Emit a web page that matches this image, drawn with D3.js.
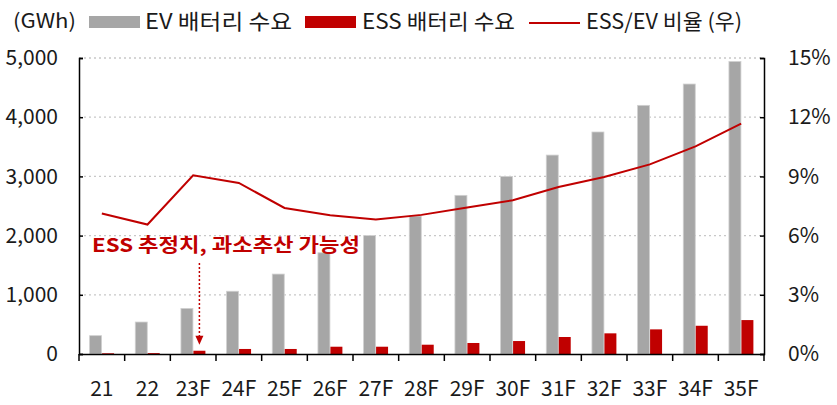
<!DOCTYPE html>
<html>
<head>
<meta charset="utf-8">
<script src="https://cdn.jsdelivr.net/npm/d3@7"></script>
<style>
	body { margin: 0; background: #fff; }
	text { font-family: "Noto Sans CJK KR", "Noto Sans", sans-serif; fill: #1a1a1a; }
</style>
</head>
<body>
<script>
var categories = ["21", "22", "23F", "24F", "25F", "26F", "27F", "28F", "29F", "30F", "31F", "32F", "33F", "34F", "35F"];
var evDemand = [310, 540, 770, 1060, 1350, 1710, 2000, 2330, 2680, 3000, 3360, 3750, 4200, 4560, 4940];
var essDemand = [12, 15, 55, 85, 85, 123, 123, 157, 186, 219, 287, 349, 416, 477, 573];
var essRatio = [7.12, 6.56, 9.06, 8.67, 7.40, 7.03, 6.81, 7.05, 7.42, 7.79, 8.46, 8.97, 9.61, 10.52, 11.67];
var leftTicks = [0, 1000, 2000, 3000, 4000, 5000];
var rightTicks = [0, 3, 6, 9, 12, 15];

window.onload = function(){
	var w = 837, h = 405;
	var grey = "#a6a6a6", red = "#c00000";

	var svg = d3.select("body")
		.append("svg")
		.attr("width", w)
		.attr("height", h)
		.attr("class", "chart");

	//category and series scales
	var x0 = d3.scaleBand()
		.domain(categories)
		.range([79, 764])
		.padding(0);

	var x1 = d3.scaleBand()
		.domain(["ev", "ess"])
		.range([0, x0.bandwidth()])
		.paddingInner(0.04)
		.paddingOuter(0.85);

	var y = d3.scaleLinear()
		.domain([0, 5000])
		.range([354, 58]);

	var yr = d3.scaleLinear()
		.domain([0, 15])
		.range([354, 58]);

	//dotted gridlines
	svg.append("g")
		.attr("class", "grid")
		.selectAll("line")
		.data(leftTicks.slice(1))
		.enter()
		.append("line")
		.attr("x1", 79)
		.attr("x2", 764)
		.attr("y1", function(d){ return y(d); })
		.attr("y2", function(d){ return y(d); })
		.style("stroke", "#c8c8c8")
		.style("stroke-width", 1.3)
		.style("stroke-dasharray", "2,3");

	//bars
	var groups = svg.selectAll(".group")
		.data(categories)
		.enter()
		.append("g")
		.attr("class", "group")
		.attr("transform", function(d){ return "translate(" + x0(d) + ",0)"; });

	groups.append("rect")
		.attr("class", "ev")
		.attr("x", x1("ev"))
		.attr("width", x1.bandwidth())
		.attr("y", function(d, i){ return y(evDemand[i]); })
		.attr("height", function(d, i){ return y(0) - y(evDemand[i]); })
		.style("fill", grey)
		.style("stroke", "#d0d0d0")
		.style("stroke-width", 0.8);

	groups.append("rect")
		.attr("class", "ess")
		.attr("x", x1("ess"))
		.attr("width", x1.bandwidth())
		.attr("y", function(d, i){ return y(essDemand[i]); })
		.attr("height", function(d, i){ return y(0) - y(essDemand[i]); })
		.style("fill", red);

	//ratio line
	var line = d3.line()
		.x(function(d, i){ return x0(categories[i]) + x0.bandwidth() / 2; })
		.y(function(d){ return yr(d); });

	svg.append("path")
		.datum(essRatio)
		.attr("class", "ratio")
		.attr("d", line)
		.style("fill", "none")
		.style("stroke", red)
		.style("stroke-width", 2);

	//axes
	svg.append("g")
		.attr("class", "axis")
		.attr("transform", "translate(79,0)")
		.call(d3.axisLeft(y).tickValues(leftTicks).tickFormat(d3.format(",")).tickSize(-4).tickPadding(21));

	svg.append("g")
		.attr("class", "axis")
		.attr("transform", "translate(764,0)")
		.call(d3.axisRight(yr).tickValues(rightTicks).tickFormat(function(d){ return d + "%"; }).tickSize(-4).tickPadding(24));

	var bottomAxis = svg.append("g")
		.attr("class", "axis")
		.attr("transform", "translate(0,354)")
		.call(d3.axisBottom(x0).tickSize(0).tickPadding(27));

	//category boundary ticks
	bottomAxis.selectAll(".bound")
		.data(categories.concat(["end"]))
		.enter()
		.append("line")
		.attr("class", "bound")
		.attr("x1", function(d, i){ return 79 + i * x0.step(); })
		.attr("x2", function(d, i){ return 79 + i * x0.step(); })
		.attr("y1", 0)
		.attr("y2", 7)
		.style("stroke", "#000")
		.style("stroke-width", 1.5);

	svg.selectAll(".axis path, .axis .tick line")
		.style("stroke", "#000")
		.style("stroke-width", 1.5);
	svg.selectAll(".axis text")
		.style("font-size", "21px")
		.style("font-family", "'Noto Sans CJK KR', sans-serif")
		.style("fill", "#1a1a1a");

	//legend
	var legend = svg.append("g").attr("class", "legend");
	legend.append("text")
		.attr("x", 13)
		.attr("y", 21)
		.attr("dy", "0.35em")
		.attr("textLength", 63)
		.attr("lengthAdjust", "spacingAndGlyphs")
		.style("font-size", "20px")
		.text("(GWh)");

	legend.append("rect")
		.attr("x", 89).attr("y", 16).attr("width", 51).attr("height", 12)
		.style("fill", grey);
	legend.append("text")
		.attr("x", 145).attr("y", 22).attr("dy", "0.35em")
		.attr("textLength", 147)
		.attr("lengthAdjust", "spacingAndGlyphs")
		.style("font-size", "21px")
		.text("EV 배터리 수요");

	legend.append("rect")
		.attr("x", 305).attr("y", 16).attr("width", 51).attr("height", 12)
		.style("fill", red);
	legend.append("text")
		.attr("x", 362).attr("y", 22).attr("dy", "0.35em")
		.attr("textLength", 153)
		.attr("lengthAdjust", "spacingAndGlyphs")
		.style("font-size", "21px")
		.text("ESS 배터리 수요");

	legend.append("line")
		.attr("x1", 529).attr("x2", 580).attr("y1", 23).attr("y2", 23)
		.style("stroke", red)
		.style("stroke-width", 2);
	legend.append("text")
		.attr("x", 586).attr("y", 22).attr("dy", "0.35em")
		.attr("textLength", 156)
		.attr("lengthAdjust", "spacingAndGlyphs")
		.style("font-size", "21px")
		.text("ESS/EV 비율 (우)");

	//annotation
	svg.append("text")
		.attr("class", "note")
		.attr("x", 92)
		.attr("y", 245)
		.attr("dy", "0.35em")
		.attr("textLength", 268)
		.attr("lengthAdjust", "spacingAndGlyphs")
		.style("font-size", "19px")
		.style("font-weight", "bold")
		.style("fill", red)
		.text("ESS 추정치, 과소추산 가능성");

	var ax = x0("23F") + x1("ess") + x1.bandwidth() / 2;
	var ay = y(essDemand[2]) - 6;
	svg.append("line")
		.attr("x1", ax).attr("x2", ax)
		.attr("y1", 263).attr("y2", ay - 8)
		.style("stroke", red)
		.style("stroke-width", 1.5)
		.style("stroke-dasharray", "2,2");
	svg.append("path")
		.attr("d", "M" + (ax - 4) + "," + (ay - 9) + "L" + (ax + 4) + "," + (ay - 9) + "L" + ax + "," + ay + "Z")
		.style("fill", red);
};
</script>
</body>
</html>
